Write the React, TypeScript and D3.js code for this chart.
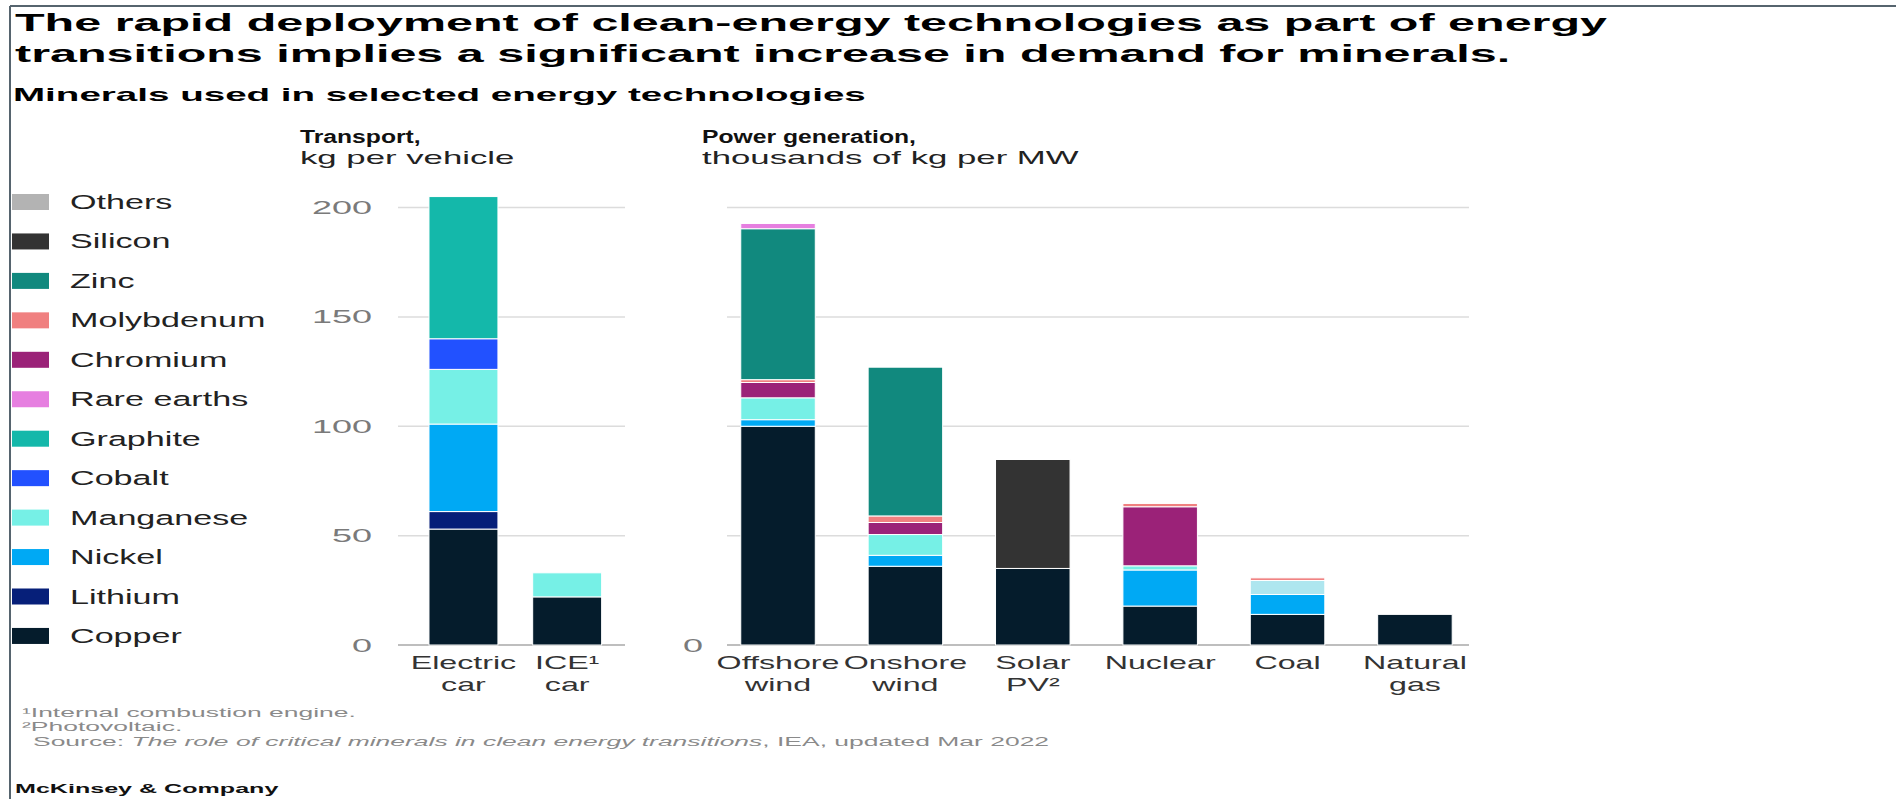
import React from "react";
import * as d3 from "d3";

// ---------------- data ----------------
const transportCats = ["Electric car", "ICE car"];
const powerCats = ["Offshore wind", "Onshore wind", "Solar PV", "Nuclear", "Coal", "Natural gas"];
const categories = [...transportCats, ...powerCats];
const categoryLabels = [
  ["Electric", "car"],
  ["ICE\u00B9", "car"],
  ["Offshore", "wind"],
  ["Onshore", "wind"],
  ["Solar", "PV\u00B2"],
  ["Nuclear"],
  ["Coal"],
  ["Natural", "gas"],
];

// values per category (same order as `categories`)
const copper = [53, 22, 100, 36, 35, 17.8, 14, 14];
const lithium = [8, 0, 0, 0, 0, 0, 0, 0];
const nickel = [40, 0, 3, 5, 0, 16.5, 9.1, 0];
const manganese = [25, 11, 10, 9.5, 0, 1.9, 6.4, 0];
const cobalt = [14, 0, 0, 0, 0, 0, 0, 0];
const graphite = [65, 0, 0, 0, 0, 0, 0, 0];
const chromium = [0, 0, 7, 5.5, 0, 27, 0, 0];
const molybdenum = [0, 0, 1.3, 3, 0, 1.5, 1.2, 0];
const zinc = [0, 0, 69, 68, 0, 0, 0, 0];
const rareEarths = [0, 0, 2.4, 0, 0, 0, 0, 0];
const silicon = [0, 0, 0, 0, 49.8, 0, 0, 0];
const others = [0, 0, 0, 0, 0, 0, 0, 0];

const legendOrder = ["Others", "Silicon", "Zinc", "Molybdenum", "Chromium", "Rare earths", "Graphite", "Cobalt", "Manganese", "Nickel", "Lithium", "Copper"];
const stackOrder = ["Copper", "Lithium", "Nickel", "Manganese", "Cobalt", "Graphite", "Chromium", "Molybdenum", "Zinc", "Rare earths", "Silicon", "Others"];
const leftTicks = [0, 50, 100, 150, 200];
const rightTicks = [0, 50, 100, 150, 200];
const rightTickLabels = [0];

const seriesValues: Record<string, number[]> = {
  Copper: copper,
  Lithium: lithium,
  Nickel: nickel,
  Manganese: manganese,
  Cobalt: cobalt,
  Graphite: graphite,
  Chromium: chromium,
  Molybdenum: molybdenum,
  Zinc: zinc,
  "Rare earths": rareEarths,
  Silicon: silicon,
  Others: others,
};

// ---------------- styles ----------------
const colors: Record<string, string> = {
  Others: "#b3b3b3",
  Silicon: "#333333",
  Zinc: "#11897e",
  Molybdenum: "#f08080",
  Chromium: "#9b2278",
  "Rare earths": "#e67fe0",
  Graphite: "#14b8aa",
  Cobalt: "#2251ff",
  Manganese: "#76f0e6",
  Nickel: "#00a9f4",
  Lithium: "#061f79",
  Copper: "#051c2c",
};
// coal's upper light band is drawn in a paler tint in the original
const cellColor: Record<string, string> = { "Coal|Manganese": "#aee6ef" };

const FONT = "'Liberation Sans', Arial, Helvetica, sans-serif";

function T(props: any) {
  const { x, y, sx = 1.8, size = 19, weight = 400, anchor = "start", fill = "#222", style, children } = props;
  return (
    <text
      transform={`translate(${x},${y}) scale(${sx},1)`}
      fontSize={size}
      fontWeight={weight}
      textAnchor={anchor}
      fill={fill}
      fontFamily={FONT}
      style={style}
    >
      {children}
    </text>
  );
}

export default function App() {
  const W = 1896;
  const H = 799;

  const y = d3.scaleLinear().domain([0, 200]).range([645, 207.5]);

  const xLeft = d3
    .scaleBand<string>()
    .domain(transportCats)
    .range([398, 625])
    .paddingInner(0.335)
    .paddingOuter(0.262)
    .align(0.57);
  const xRight = d3
    .scaleBand<string>()
    .domain(powerCats)
    .range([727, 1469])
    .paddingInner(0.415)
    .paddingOuter(0.12)
    .align(0.45);

  const xOf = (c: string) => (transportCats.includes(c) ? xLeft(c)! : xRight(c)!);
  const bwOf = (c: string) => (transportCats.includes(c) ? xLeft.bandwidth() : xRight.bandwidth());

  const rows = categories.map((c, i) => {
    const r: any = { category: c };
    stackOrder.forEach((k) => (r[k] = seriesValues[k][i]));
    return r;
  });
  const stacked = d3.stack<any>().keys(stackOrder)(rows);

  const legendTop = 194;
  const legendStep = 39.45;

  return (
    <div style={{ position: "absolute", left: 0, top: 0, width: W, height: H, overflow: "hidden", background: "#fff" }}>
      <svg width={W} height={H} style={{ display: "block" }}>
        <rect x={0} y={0} width={W} height={H} fill="#fff" />
        {/* frame */}
        <line x1={10} x2={W} y1={6} y2={6} stroke="#56646e" strokeWidth={2} />
        <line x1={10} x2={10} y1={6} y2={H} stroke="#56646e" strokeWidth={2} />

        {/* titles */}
        <T x={15} y={31} size={24} weight={700} sx={2.02} fill="#000">
          The rapid deployment of clean-energy technologies as part of energy
        </T>
        <T x={15} y={62} size={24} weight={700} sx={2.02} fill="#000">
          transitions implies a significant increase in demand for minerals.
        </T>
        <T x={13} y={101} size={19} weight={700} sx={2.03} fill="#000">
          Minerals used in selected energy technologies
        </T>

        {/* panel headers */}
        <T x={300} y={143} size={19} weight={700} sx={1.3} fill="#111">Transport,</T>
        <T x={300} y={164} size={19} sx={1.83} fill="#222">kg per vehicle</T>
        <T x={702} y={143} size={19} weight={700} sx={1.3} fill="#111">Power generation,</T>
        <T x={702} y={164} size={19} sx={1.83} fill="#222">thousands of kg per MW</T>

        {/* legend */}
        {legendOrder.map((k, i) => (
          <g key={k}>
            <rect x={12} y={legendTop + i * legendStep} width={37} height={16} fill={colors[k]} />
            <T x={70} y={legendTop + i * legendStep + 15} size={19.5} sx={1.75} fill="#222">
              {k}
            </T>
          </g>
        ))}

        {/* gridlines */}
        {leftTicks.map((t) => (
          <line key={"gl" + t} x1={398} x2={625} y1={y(t)} y2={y(t)} stroke={t === 0 ? "#a8a8a8" : "#dcdcdc"} strokeWidth={1.5} />
        ))}
        {rightTicks.map((t) => (
          <line key={"gr" + t} x1={727} x2={1469} y1={y(t)} y2={y(t)} stroke={t === 0 ? "#a8a8a8" : "#dcdcdc"} strokeWidth={1.5} />
        ))}

        {/* tick labels */}
        {leftTicks.map((t) => (
          <T key={"tl" + t} x={372} y={y(t) + 6.5} size={18} sx={2.0} anchor="end" fill="#7a7a7a">
            {t}
          </T>
        ))}
        {rightTickLabels.map((t) => (
          <T key={"tr" + t} x={703} y={y(t) + 6.5} size={18} sx={2.0} anchor="end" fill="#7a7a7a">
            {t}
          </T>
        ))}

        {/* bars */}
        {stacked.map((s) =>
          s.map((d, i) => {
            const c = categories[i];
            const v = d[1] - d[0];
            if (!(v > 0)) return null;
            return (
              <rect
                key={s.key + c}
                x={xOf(c)}
                y={y(d[1])}
                width={bwOf(c)}
                height={y(d[0]) - y(d[1])}
                fill={cellColor[c + "|" + s.key] || colors[s.key]}
                stroke="#ffffff"
                strokeWidth={1}
              />
            );
          })
        )}

        {/* category labels */}
        {categories.map((c, i) =>
          categoryLabels[i].map((line, j) => (
            <T key={c + j} x={xOf(c) + bwOf(c) / 2} y={669 + j * 22} size={18.5} sx={1.74} anchor="middle" fill="#333">
              {line}
            </T>
          ))
        )}

        {/* footnotes */}
        <T x={22} y={717} size={13.5} sx={1.96} fill="#8a8a8a">{"\u00B9Internal combustion engine."}</T>
        <T x={22} y={731} size={13.5} sx={1.96} fill="#8a8a8a">{"\u00B2Photovoltaic."}</T>
        <T x={33} y={746} size={13.5} sx={1.96} fill="#8a8a8a">
          Source: <tspan fontStyle="italic">The role of critical minerals in clean energy transitions</tspan>, IEA, updated Mar 2022
        </T>
        <T x={15} y={793} size={13} weight={700} sx={1.93} fill="#111">McKinsey &amp; Company</T>
      </svg>
    </div>
  );
}
